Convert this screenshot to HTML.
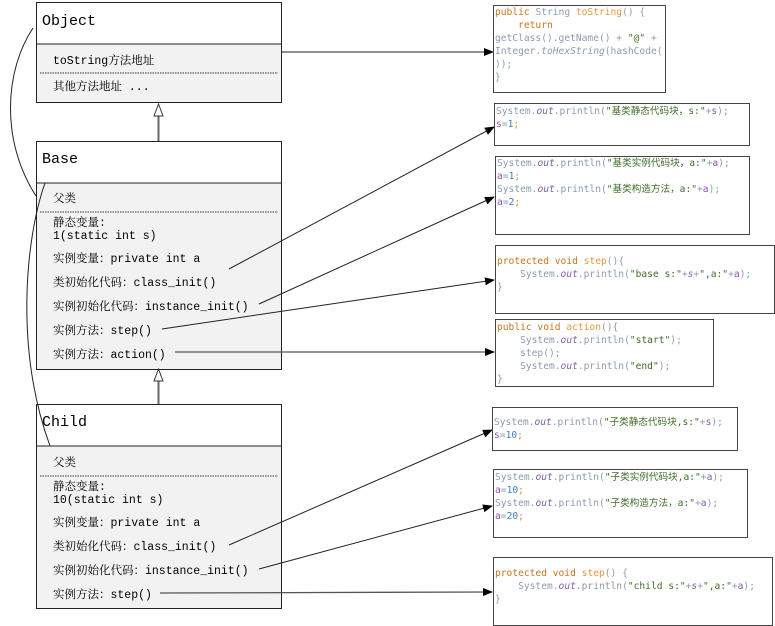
<!DOCTYPE html>
<html><head><meta charset="utf-8"><style>
body{margin:0;width:775px;height:626px;background:#fff;position:relative;overflow:hidden}
.u{position:absolute;font-family:"Liberation Mono","Noto Serif CJK SC",monospace;font-size:11.5px;color:#000;white-space:pre}
.t{position:absolute;font-family:"Liberation Mono","Noto Serif CJK SC",monospace;font-size:15px;color:#000}
.cb{position:absolute;border:1.5px solid #444;background:#fff;box-sizing:border-box;font-family:"DejaVu Sans Mono","Noto Sans CJK SC",monospace;font-size:9.6px;line-height:13px;white-space:pre;padding:0 0 0 1px;overflow:hidden}
.k{color:#c8741c}.g{color:#8c9bb0}.m{color:#e49a3a}.o{color:#7b5fa8;font-style:italic}.s{color:#3e6f26}.v{color:#8a55b0}.n{color:#3d7fc0}.p{color:#e08a2c}
</style></head><body>
<svg width="775" height="626" style="position:absolute;left:0;top:0">
<defs><marker id="a" markerWidth="10" markerHeight="8" refX="9" refY="4" orient="auto" markerUnits="userSpaceOnUse"><path d="M0,0L10,4L0,8z" fill="#000"/></marker></defs>
<rect x="36.5" y="2.5" width="245" height="100" fill="#f2f2f2" stroke="#222"/>
<rect x="36.5" y="2.5" width="245" height="41.5" fill="#fff" stroke="#222"/>
<line x1="40" y1="73" x2="278" y2="73" stroke="#333" stroke-dasharray="1.5,1"/>
<rect x="36.5" y="141.5" width="245" height="228" fill="#f2f2f2" stroke="#222"/>
<rect x="36.5" y="141.5" width="245" height="41.5" fill="#fff" stroke="#222"/>
<line x1="40" y1="212" x2="278" y2="212" stroke="#333" stroke-dasharray="1.5,1"/>
<rect x="36.5" y="404.5" width="245" height="204" fill="#f2f2f2" stroke="#222"/>
<rect x="36.5" y="404.5" width="245" height="41.5" fill="#fff" stroke="#222"/>
<line x1="40" y1="476" x2="278" y2="476" stroke="#333" stroke-dasharray="1.5,1"/>
<line x1="158.5" y1="141" x2="158.5" y2="115" stroke="#666" stroke-width="2"/>
<path d="M154,116L158.5,104L163,116z" fill="#fff" stroke="#333"/>
<line x1="158.5" y1="404" x2="158.5" y2="380" stroke="#666" stroke-width="2"/>
<path d="M154,381L158.5,369L163,381z" fill="#fff" stroke="#333"/>
<path d="M33,28 C5,70 0,140 36,196" fill="none" stroke="#222"/>
<path d="M45,183 C25,240 15,350 50,446" fill="none" stroke="#222"/>
<g stroke="#222" fill="none" marker-end="url(#a)">
<line x1="281" y1="52" x2="493" y2="52"/>
<line x1="229" y1="269" x2="494" y2="127"/>
<line x1="259" y1="304" x2="494" y2="197"/>
<line x1="162" y1="329" x2="494" y2="280"/>
<line x1="175" y1="352" x2="494" y2="352" stroke="#555" stroke-width="1.3"/>
<line x1="229" y1="545" x2="492" y2="430"/>
<line x1="259" y1="569" x2="492" y2="506"/>
<line x1="160" y1="593" x2="492" y2="592" stroke="#555" stroke-width="1.3"/>
</g>
</svg>
<div class="t" style="left:42px;top:13px">Object</div>
<div class="u" style="left:53px;top:52px">toString方法地址</div>
<div class="u" style="left:53px;top:78px">其他方法地址 ...</div>
<div class="t" style="left:42px;top:151px">Base</div>
<div class="u" style="left:53px;top:190px">父类</div>
<div class="u" style="left:53px;top:214px">静态变量:</div>
<div class="u" style="left:53px;top:230px">1(static int s)</div>
<div class="u" style="left:53px;top:250px">实例变量：private int a</div>
<div class="u" style="left:53px;top:274px">类初始化代码：class_init()</div>
<div class="u" style="left:53px;top:298px">实例初始化代码：instance_init()</div>
<div class="u" style="left:53px;top:322px">实例方法：step()</div>
<div class="u" style="left:53px;top:346px">实例方法：action()</div>
<div class="t" style="left:42px;top:414px">Child</div>
<div class="u" style="left:53px;top:454px">父类</div>
<div class="u" style="left:53px;top:478px">静态变量:</div>
<div class="u" style="left:53px;top:494px">10(static int s)</div>
<div class="u" style="left:53px;top:514px">实例变量：private int a</div>
<div class="u" style="left:53px;top:538px">类初始化代码：class_init()</div>
<div class="u" style="left:53px;top:562px">实例初始化代码：instance_init()</div>
<div class="u" style="left:53px;top:586px">实例方法：step()</div>

<div class="cb" style="left:493px;top:5px;width:173px;height:88px"><span class="k">public</span> <span class="g">String</span> <span class="m">toString</span><span class="g">() {</span>
    <span class="k">return</span>
<span class="g">getClass().getName() + </span><span class="s">"@"</span><span class="g"> +</span>
<span class="g">Integer.</span><span class="g" style="font-style:italic">toHexString</span><span class="g">(hashCode(</span>
<span class="g">));</span>
<span class="g">}</span></div>
<div class="cb" style="left:494px;top:103px;width:256px;height:43px;padding-top:1px"><span class="g">System.</span><span class="o">out</span><span class="g">.println(</span><span class="s">"基类静态代码块，s:"</span><span class="g">+</span><span class="v">s</span><span class="g">);</span>
<span class="v">s</span><span class="g">=</span><span class="n">1</span><span class="p">;</span></div>
<div class="cb" style="left:495px;top:156px;width:255px;height:79px"><span class="g">System.</span><span class="o">out</span><span class="g">.println(</span><span class="s">"基类实例代码块，a:"</span><span class="g">+</span><span class="v">a</span><span class="g">);</span>
<span class="v">a</span><span class="g">=</span><span class="n">1</span><span class="p">;</span>
<span class="g">System.</span><span class="o">out</span><span class="g">.println(</span><span class="s">"基类构造方法，a:"</span><span class="g">+</span><span class="v">a</span><span class="g">);</span>
<span class="v">a</span><span class="g">=</span><span class="n">2</span><span class="p">;</span></div>
<div class="cb" style="left:495px;top:245px;width:280px;height:69px;padding-top:9px"><span class="k">protected void</span> <span class="m">step</span><span class="g">(){</span>
    <span class="g">System.</span><span class="o">out</span><span class="g">.println(</span><span class="s">"base s:"</span><span class="g">+</span><span class="o">s</span><span class="g">+</span><span class="s">",a:"</span><span class="g">+</span><span class="v">a</span><span class="g">);</span>
<span class="g">}</span></div>
<div class="cb" style="left:495px;top:319px;width:219px;height:68px;padding-top:1px"><span class="k">public void</span> <span class="m">action</span><span class="g">(){</span>
    <span class="g">System.</span><span class="o">out</span><span class="g">.println(</span><span class="s">"start"</span><span class="g">);</span>
    <span class="g">step();</span>
    <span class="g">System.</span><span class="o">out</span><span class="g">.println(</span><span class="s">"end"</span><span class="g">);</span>
<span class="g">}</span></div>
<div class="cb" style="left:492px;top:407px;width:246px;height:44px;padding-top:8px"><span class="g">System.</span><span class="o">out</span><span class="g">.println(</span><span class="s">"子类静态代码块,s:"</span><span class="g">+</span><span class="v">s</span><span class="g">);</span>
<span class="v">s</span><span class="g">=</span><span class="n">10</span><span class="p">;</span></div>
<div class="cb" style="left:493px;top:469px;width:255px;height:69px;padding-top:1px"><span class="g">System.</span><span class="o">out</span><span class="g">.println(</span><span class="s">"子类实例代码块,a:"</span><span class="g">+</span><span class="v">a</span><span class="g">);</span>
<span class="v">a</span><span class="g">=</span><span class="n">10</span><span class="p">;</span>
<span class="g">System.</span><span class="o">out</span><span class="g">.println(</span><span class="s">"子类构造方法，a:"</span><span class="g">+</span><span class="v">a</span><span class="g">);</span>
<span class="v">a</span><span class="g">=</span><span class="n">20</span><span class="p">;</span></div>
<div class="cb" style="left:493px;top:557px;width:280px;height:69px;padding-top:9px"><span class="k">protected void</span> <span class="m">step</span><span class="g">() {</span>
    <span class="g">System.</span><span class="o">out</span><span class="g">.println(</span><span class="s">"child s:"</span><span class="g">+</span><span class="o">s</span><span class="g">+</span><span class="s">",a:"</span><span class="g">+</span><span class="v">a</span><span class="g">);</span>
<span class="g">}</span></div>
</body></html>
